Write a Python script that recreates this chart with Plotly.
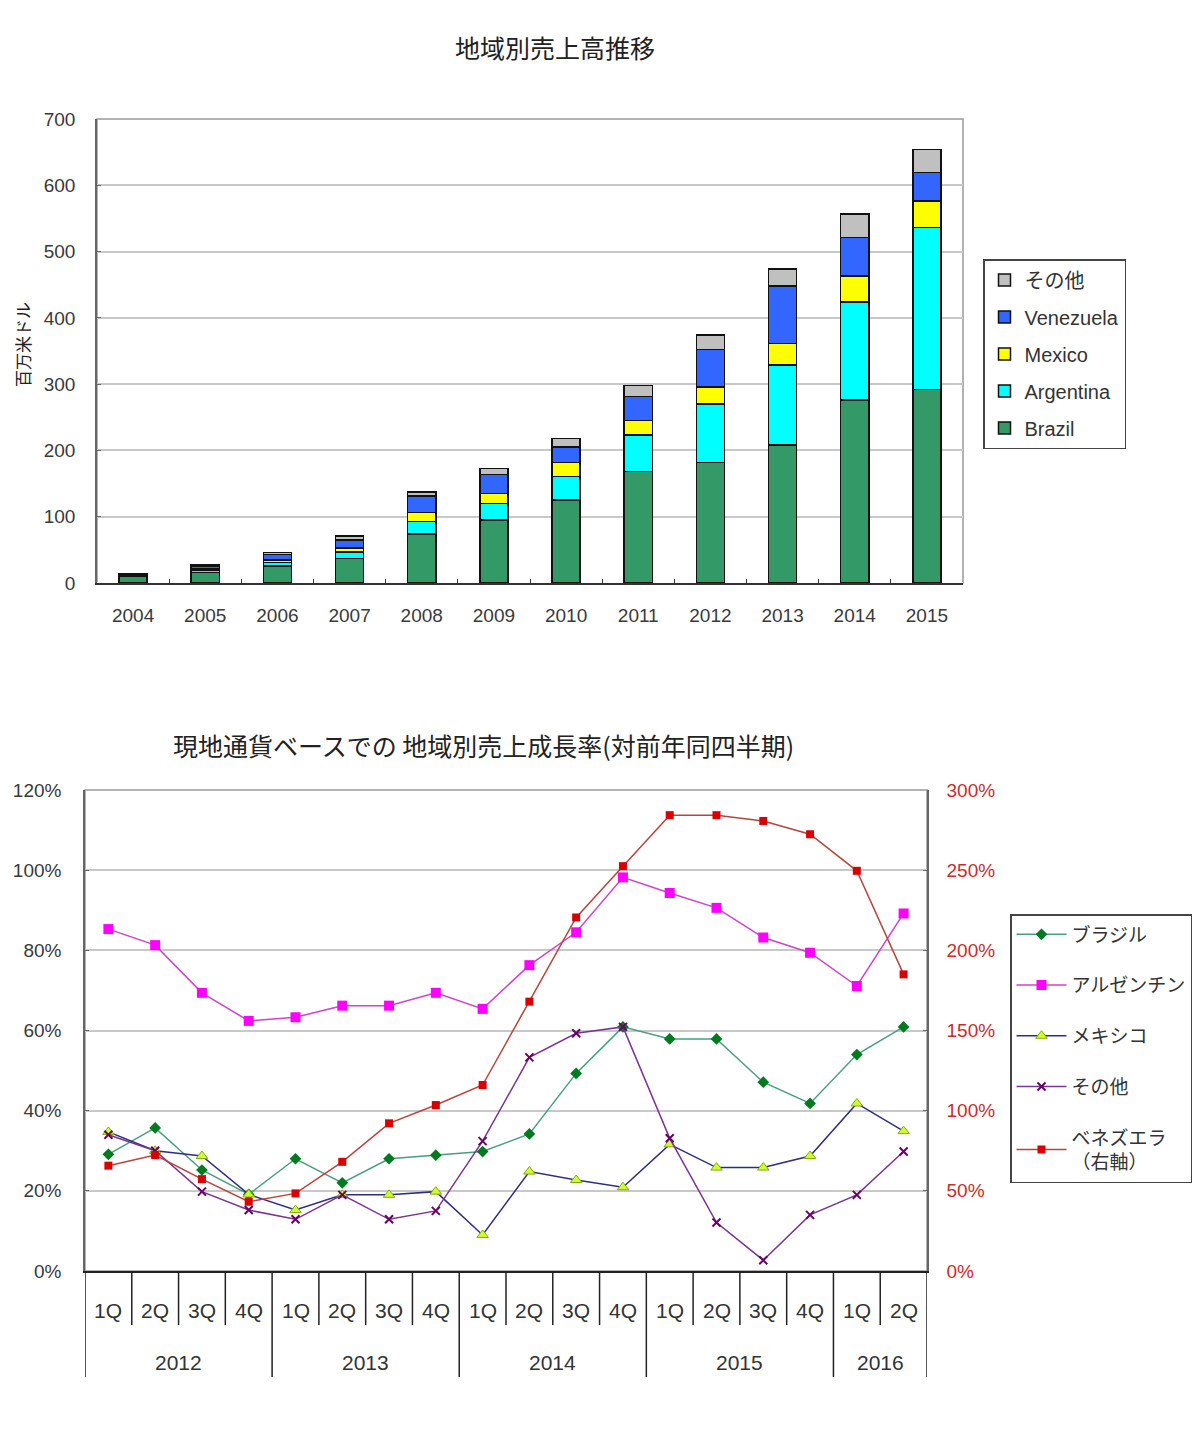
import plotly.graph_objects as go

# ---------------- Data: top chart (million USD) ----------------
years = ["2004", "2005", "2006", "2007", "2008", "2009", "2010", "2011", "2012", "2013", "2014", "2015"]
brazil_sales = [10, 16, 26, 37, 74, 95, 125, 168, 182, 208, 276, 292]
argentina_sales = [1, 3, 5, 10, 19, 25, 36, 55, 88, 121, 148, 244]
mexico_sales = [1, 2, 4, 6, 13, 15, 21, 22, 26, 32, 39, 40]
venezuela_sales = [1, 4, 8, 12, 25, 29, 23, 36, 56, 87, 58, 43]
other_sales = [1, 2, 3, 6, 6, 9, 13, 17, 22, 26, 36, 35]

# ---------------- Data: bottom chart (growth %, YoY) ----------------
quarters = ["1Q", "2Q", "3Q", "4Q", "1Q", "2Q", "3Q", "4Q", "1Q", "2Q", "3Q", "4Q",
            "1Q", "2Q", "3Q", "4Q", "1Q", "2Q"]
quarter_years = ["2012"] * 4 + ["2013"] * 4 + ["2014"] * 4 + ["2015"] * 4 + ["2016"] * 2
brazil_growth = [29.1, 35.7, 25.2, 19.1, 28.0, 22.0, 28.0, 28.9, 29.8, 34.2, 49.3, 60.9,
                 57.9, 57.9, 47.1, 41.8, 54.0, 60.9]
argentina_growth = [85.3, 81.3, 69.4, 62.4, 63.3, 66.2, 66.2, 69.4, 65.4, 76.3, 84.5, 98.2,
                    94.3, 90.6, 83.2, 79.4, 71.1, 89.2]
mexico_growth = [34.7, 30.0, 28.7, 19.1, 15.2, 19.0, 19.0, 19.8, 9.0, 24.8, 22.7, 20.9,
                 31.6, 25.8, 25.8, 28.7, 41.8, 34.9]
other_growth = [34.0, 30.0, 19.8, 15.2, 12.9, 19.0, 12.9, 15.0, 32.4, 53.3, 59.3, 60.9,
                33.1, 12.1, 2.7, 14.0, 19.0, 29.8]
venezuela_growth = [65.7, 72.3, 57.3, 43.2, 48.4, 68.1, 92.1, 103.5, 116.0, 168.0, 220.5, 252.5,
                    284.3, 284.3, 280.7, 272.4, 249.6, 185.0]

FONT = "Liberation Sans, Arial, Noto Sans CJK JP, sans-serif"
JFONT = "Noto Sans CJK JP, Liberation Sans, sans-serif"
W, H = 1200, 1430

fig = go.Figure()

# ---------------- Top: stacked bars ----------------
bar_series = [
    ("Brazil", brazil_sales, "#339966"),
    ("Argentina", argentina_sales, "#00FFFF"),
    ("Mexico", mexico_sales, "#FFFF00"),
    ("Venezuela", venezuela_sales, "#3366FF"),
    ("その他", other_sales, "#C0C0C0"),
]
nb = len(bar_series)
for i, (name, vals, col) in enumerate(bar_series):
    fig.add_trace(go.Bar(
        x=years, y=vals, name=name, xaxis="x", yaxis="y",
        marker=dict(color=col, line=dict(color="#111111", width=1.5)),
        width=0.39, legend="legend", legendgroup="b%d" % i, legendrank=nb - i,
    ))

# ---------------- Bottom: lines ----------------
idx = list(range(len(quarters)))
line_series = [
    ("ブラジル", brazil_growth, "#4A9E80", dict(symbol="diamond", size=9, color="#007A1E",
                                            line=dict(width=0)), "y2"),
    ("アルゼンチン", argentina_growth, "#CC44CC", dict(symbol="square", size=10, color="#FF00FF",
                                                 line=dict(width=0)), "y2"),
    ("メキシコ", mexico_growth, "#2E2E80", dict(symbol="triangle-up", size=10, color="#CCFF33",
                                            line=dict(width=1, color="#88AA00")), "y2"),
    ("その他", other_growth, "#7A3590", dict(symbol="x-thin", size=8, color="#660066",
                                          line=dict(width=2, color="#660066")), "y2"),
    ("ベネズエラ<br>（右軸）", venezuela_growth, "#B8453C", dict(symbol="square", size=8, color="#D80000",
                                                           line=dict(width=0)), "y3"),
]
for i, (name, vals, lcol, mk, ya) in enumerate(line_series):
    fig.add_trace(go.Scatter(
        x=idx, y=vals, name=name, mode="lines+markers", xaxis="x2", yaxis=ya,
        line=dict(color=lcol, width=1.5), marker=mk,
        legend="legend2", legendgroup="l%d" % i, legendrank=i + 1,
    ))

# ---------------- Layout ----------------
def px_x(p):
    return p / W

def px_y(p):
    return 1 - p / H

grid = "#C8C8C8"
fig.update_layout(
    width=W, height=H,
    margin=dict(l=0, r=0, t=0, b=0, autoexpand=False),
    paper_bgcolor="white", plot_bgcolor="white",
    barmode="stack",
    font=dict(family=FONT, color="#333333", size=17),
    xaxis=dict(domain=[px_x(97), px_x(963)], anchor="y", type="category",
               showline=True, linecolor="#333333", linewidth=1.5,
               ticks="inside", tickson="boundaries", ticklen=4, tickcolor="#333333",
               showgrid=False, tickfont=dict(size=19, color="#3A3A3A"),
               ticklabelstandoff=14),
    yaxis=dict(domain=[px_y(583), px_y(119)], anchor="x", range=[0, 700], dtick=100,
               showline=True, linecolor="#666666", linewidth=1.5,
               showgrid=True, gridcolor=grid, gridwidth=1.5,
               ticks="inside", ticklen=4, tickcolor="#666666",
               tickfont=dict(size=19, color="#3A3A3A"), ticklabelstandoff=16),
    xaxis2=dict(domain=[px_x(85), px_x(927)], anchor="y2", range=[-0.5, len(quarters) - 0.5],
                showline=True, linecolor="#222222", linewidth=1.5,
                showticklabels=False, showgrid=False, zeroline=False, ticks=""),
    yaxis2=dict(domain=[px_y(1271), px_y(790)], anchor="x2", range=[0, 120], dtick=20,
                ticksuffix="%", showline=True, linecolor="#666666", linewidth=1.5,
                showgrid=True, gridcolor=grid, gridwidth=1.5, zeroline=False,
                ticks="inside", ticklen=4, tickcolor="#666666",
                tickfont=dict(size=19, color="#3A3A3A"), ticklabelstandoff=18),
    yaxis3=dict(overlaying="y2", anchor="x2", side="right", range=[0, 300], dtick=50,
                ticksuffix="%", showgrid=False, zeroline=False, showline=True,
                linecolor="#666666", linewidth=1.5,
                ticks="inside", ticklen=4, tickcolor="#666666",
                tickfont=dict(size=19, color="#CC2B2B"), ticklabelstandoff=14),
    legend=dict(x=px_x(983), y=px_y(259), xanchor="left", yanchor="top",
                traceorder="grouped", tracegroupgap=8,
                bordercolor="#444444", borderwidth=1.5, bgcolor="white",
                font=dict(size=20, color="#333333", family=FONT), itemwidth=30),
    legend2=dict(x=px_x(1010), y=px_y(914), xanchor="left", yanchor="top",
                 traceorder="grouped", tracegroupgap=23,
                 bordercolor="#444444", borderwidth=1.5, bgcolor="white",
                 font=dict(size=19, color="#333333", family=FONT), itemwidth=50),
    showlegend=True,
)

shapes = []
annotations = []

# box borders
for xr, yr in [("x domain", "y domain"), ("x2 domain", "y2 domain")]:
    shapes.append(dict(type="rect", xref=xr, yref=yr, x0=0, x1=1, y0=0, y1=1,
                       line=dict(color="#999999", width=1.5), layer="below"))

# bottom chart category dividers and labels
plot_h = 1271 - 790
q_len = (1325 - 1271) / plot_h
y_len = (1377 - 1271) / plot_h
n = len(quarters)
for b in range(n + 1):
    pos = b - 0.5
    is_year_edge = (b == 0 or b == n or quarter_years[b] != quarter_years[b - 1])
    shapes.append(dict(type="line", xref="x2", yref="y2 domain", x0=pos, x1=pos,
                       y0=0, y1=-(y_len if is_year_edge else q_len),
                       line=dict(color="#222222", width=1.5)))
for i, q in enumerate(quarters):
    annotations.append(dict(xref="x2", yref="y2 domain", x=i, y=-(1310 - 1271) / plot_h,
                            text=q, showarrow=False, yanchor="middle",
                            font=dict(size=21, color="#333333", family=FONT)))
seen = []
for yv in quarter_years:
    if yv not in seen:
        seen.append(yv)
for yv in seen:
    pos = [i for i, q in enumerate(quarter_years) if q == yv]
    annotations.append(dict(xref="x2", yref="y2 domain", x=sum(pos) / len(pos),
                            y=-(1362 - 1271) / plot_h, text=yv, showarrow=False,
                            yanchor="middle", font=dict(size=21, color="#333333", family=FONT)))

# titles
annotations.append(dict(xref="paper", yref="paper", x=px_x(555), y=px_y(47), text="地域別売上高推移",
                        showarrow=False, xanchor="center", yanchor="middle",
                        font=dict(size=25, color="#222222", family=JFONT)))
annotations.append(dict(xref="paper", yref="paper", x=px_x(483), y=px_y(745),
                        text="現地通貨ベースでの 地域別売上成長率(対前年同四半期)",
                        showarrow=False, xanchor="center", yanchor="middle",
                        font=dict(size=25, color="#222222", family=JFONT)))
annotations.append(dict(xref="paper", yref="paper", x=px_x(22), y=px_y(345), text="百万米ドル",
                        showarrow=False, textangle=-90, xanchor="center", yanchor="middle",
                        font=dict(size=17, color="#222222", family=JFONT)))

fig.update_layout(shapes=shapes, annotations=annotations)

fig.write_html("out.html")
